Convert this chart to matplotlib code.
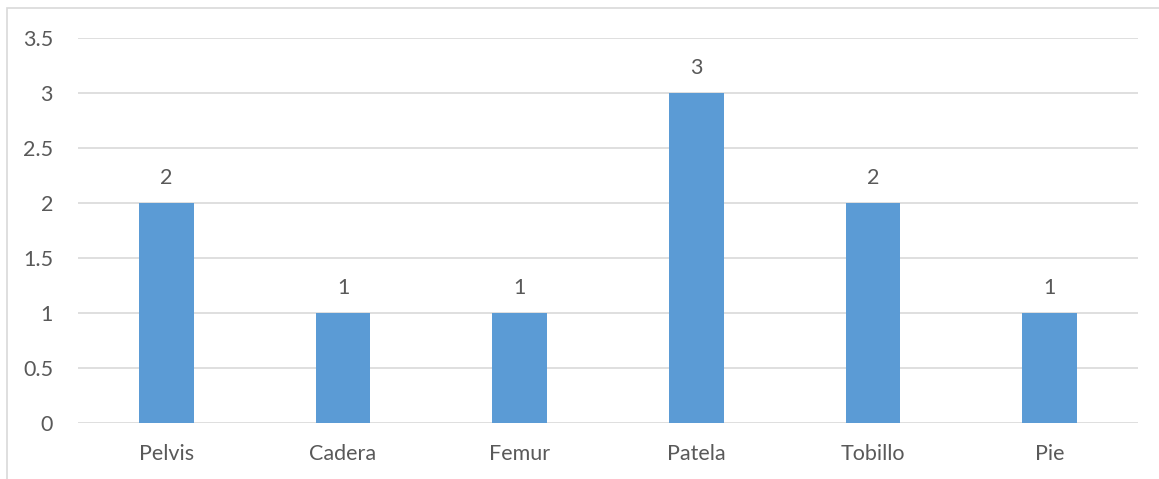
import matplotlib
matplotlib.use("Agg")
import matplotlib.pyplot as plt
from matplotlib.patches import Rectangle

categories = ["Pelvis", "Cadera", "Femur", "Patela", "Tobillo", "Pie"]
values = [2, 1, 1, 3, 2, 1]
yticks = [0, 0.5, 1, 1.5, 2, 2.5, 3, 3.5]
ytick_labels = ["0", "0.5", "1", "1.5", "2", "2.5", "3", "3.5"]

plt.rcParams['font.family'] = ['Lato', 'DejaVu Sans']
text_color = "#595959"
grid_color = "#D9D9D9"

fig = plt.figure(figsize=(11.59, 4.79), dpi=100)
fig.patches.append(Rectangle((7/1159, -0.1), 1.2, 1 - 8/479 + 0.1, transform=fig.transFigure,
                             fill=False, edgecolor=grid_color, linewidth=1.2))
ax = fig.add_axes([78/1159, 1 - 423/479, (1138 - 78)/1159, (423 - 38)/479])

x = list(range(len(categories)))
bars = ax.bar(x, values, width=0.31, color="#5B9BD5", zorder=3)
ax.set_xlim(-0.5, len(categories) - 0.5)
ax.set_ylim(0, 3.5)
ax.set_yticks(yticks)
ax.set_yticklabels(ytick_labels)
ax.set_xticks(x)
ax.set_xticklabels(categories)
ax.yaxis.grid(True, color=grid_color, linewidth=1.2, zorder=0)
for s in ax.spines.values():
    s.set_visible(False)
ax.tick_params(axis='both', length=0, colors=text_color, labelsize=15.5)
ax.tick_params(axis='y', pad=18)
ax.tick_params(axis='x', pad=15)
for b, v in zip(bars, values):
    ax.annotate(str(v), (b.get_x() + b.get_width() / 2, v), xytext=(0, 11),
                textcoords="offset points", ha="center", va="bottom",
                fontsize=15.5, color=text_color)

fig.savefig("out.png", dpi=100)
